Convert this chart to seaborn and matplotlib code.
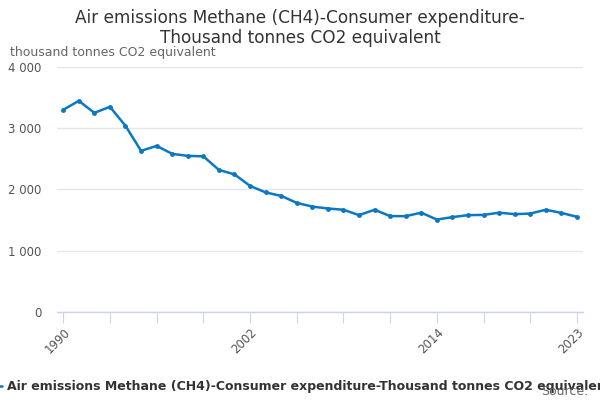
import matplotlib
matplotlib.use("Agg")
import matplotlib.pyplot as plt
import matplotlib.ticker as mticker
import pandas as pd
import seaborn as sns

years = list(range(1990, 2024))
emissions = [3298, 3445, 3249, 3347, 3037, 2629, 2710, 2580, 2547, 2539,
             2318, 2245, 2057, 1951, 1894, 1780, 1720, 1688, 1668, 1580,
             1668, 1564, 1564, 1620, 1508, 1548, 1580, 1584, 1620, 1596,
             1606, 1668, 1616, 1553]
label_years = [1990, 2002, 2014, 2023]
series_name = "Air emissions Methane (CH4)-Consumer expenditure-Thousand tonnes CO2 equivalent"

df = pd.DataFrame({"year": years, "value": emissions})

sns.set_style("white")
plt.rcParams['font.family'] = ['DejaVu Sans']

line_color = '#0b78c1'
fig, ax = plt.subplots(figsize=(6, 4), dpi=100)
fig.subplots_adjust(left=0.095, right=0.972, top=0.833, bottom=0.22)

sns.lineplot(data=df, x="year", y="value", ax=ax, color=line_color,
             linewidth=1.8, marker='o', markersize=3.5, markeredgewidth=0,
             label=series_name)

ax.set_ylim(0, 4000)
ax.set_xlim(1989.6, 2023.4)
ax.yaxis.set_major_locator(mticker.MultipleLocator(1000))
ax.yaxis.set_major_formatter(
    mticker.FuncFormatter(lambda v, p: f"{int(v):,}".replace(",", " ")))
ax.grid(axis='y', color='#e6e6e6', linewidth=1)
ax.set_axisbelow(True)

# tick marks every 3 years, labels only on a few
ax.set_xticks(list(range(1990, 2024, 3)))
ax.set_xticklabels([str(y) if y in label_years else "" for y in range(1990, 2024, 3)],
                   rotation=45, ha='right', rotation_mode='anchor')
ax.tick_params(axis='x', length=8, color='#ccd6eb', labelsize=8.5,
               labelcolor='#555555', bottom=True, pad=2)
ax.tick_params(axis='y', length=0, labelsize=8.5, labelcolor='#555555', pad=11)

for side in ['top', 'right', 'left']:
    ax.spines[side].set_visible(False)
ax.spines['bottom'].set_color('#ccd6eb')
ax.spines['bottom'].set_linewidth(1)

ax.set_xlabel("")
ax.set_ylabel("")
fig.text(0.017, 0.868, "thousand tonnes CO2 equivalent", fontsize=9,
         color='#666666', va='center', ha='left')
fig.suptitle("Air emissions Methane (CH4)-Consumer expenditure-\nThousand tonnes CO2 equivalent",
             fontsize=12.2, color='#333333', y=0.978, linespacing=1.15)

# legend runs off both edges in the reference
leg = ax.legend(loc='center left', bbox_to_anchor=(-0.048, 0.033),
                bbox_transform=fig.transFigure, frameon=False,
                prop={'weight': 'bold', 'size': 9.0}, handlelength=1.6,
                handletextpad=0.4)
for t in leg.get_texts():
    t.set_color('#333333')

fig.text(0.98, 0.022, "Source:", fontsize=9, color='#666666', ha='right', va='center')

fig.savefig("out.png", dpi=100)
